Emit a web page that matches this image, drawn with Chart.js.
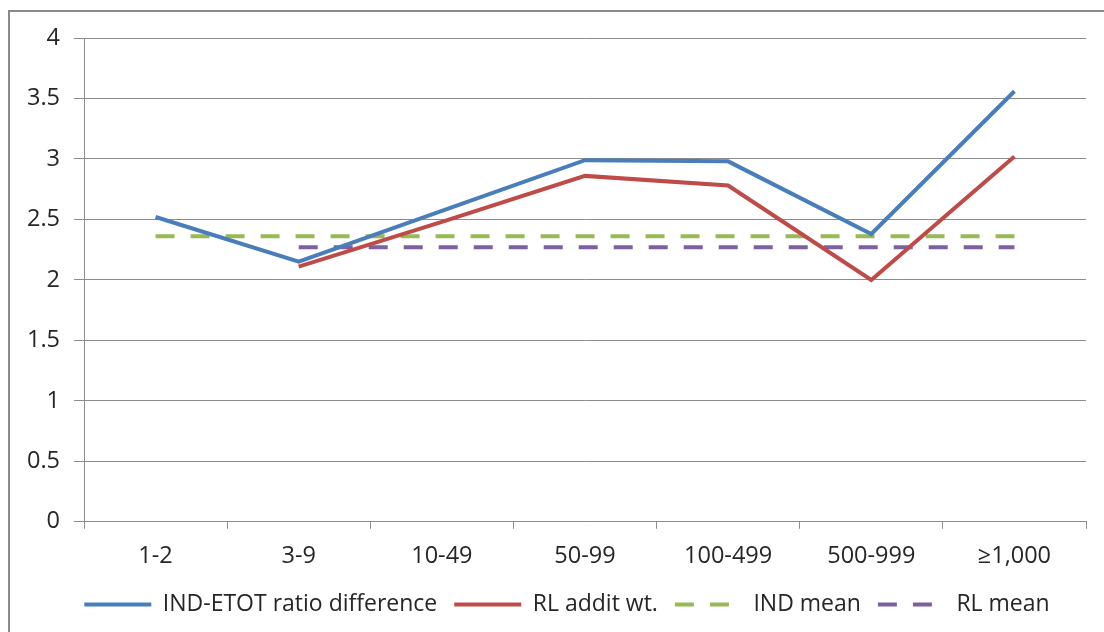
<!DOCTYPE html>
<html>
<head>
<meta charset="utf-8">
<script src="https://cdn.jsdelivr.net/npm/chart.js@4.4.0/dist/chart.umd.min.js"></script>
<style>
  html, body { margin: 0; padding: 0; background: #fff; }
  #wrap { width: 1104px; height: 632px; position: relative; }
</style>
</head>
<body>
<div id="wrap"><canvas id="myChart" width="1104" height="632"></canvas></div>
<script>
// establishment size classes
const sizeClasses = ['1-2', '3-9', '10-49', '50-99', '100-499', '500-999', '\u22651,000'];

const indEtotDiff = [2.52, 2.15, 2.57, 2.99, 2.98, 2.38, 3.56];
const rlAdditWt   = [null, 2.11, 2.48, 2.86, 2.78, 2.00, 3.02];
const indMean     = [2.36, 2.36, 2.36, 2.36, 2.36, 2.36, 2.36];
const rlMean      = [null, 2.27, 2.27, 2.27, 2.27, 2.27, 2.27];

const yTicks = [0, 0.5, 1, 1.5, 2, 2.5, 3, 3.5, 4];

const FONT = "'Open Sans', sans-serif";
const GRID = '#8c8c8c';
const TEXT = '#262626';

// grey frame round the whole chart, and nudge the legend to the right
const framePlugin = {
  id: 'frame',
  afterLayout(chart) {
    chart.legend.left += 48;
  },
  beforeDraw(chart) {
    const c = chart.ctx;
    c.save();
    c.fillStyle = '#fff';
    c.fillRect(0, 0, chart.width, chart.height);
    c.strokeStyle = '#8a8a8a';
    c.lineWidth = 2;
    c.strokeRect(9, 11, 1300, 800);
    c.restore();
  }
};

function lineSet(label, data, color, dash) {
  return {
    label: label,
    data: data,
    borderColor: color,
    backgroundColor: color,
    borderWidth: 4,
    borderDash: dash || [],
    pointRadius: 0,
    pointHoverRadius: 0,
    pointStyle: 'line',
    tension: 0,
    spanGaps: false
  };
}

var ctx = document.getElementById('myChart');
var chart = new Chart(ctx, {
  type: 'line',
  data: {
    labels: sizeClasses,
    datasets: [
      lineSet('IND-ETOT ratio difference', indEtotDiff, '#4a7ebb'),
      lineSet('RL addit wt.', rlAdditWt, '#be4b48'),
      lineSet('IND mean', indMean, '#98b954', [19, 16]),
      lineSet('RL mean', rlMean, '#7d60a0', [19, 16])
    ]
  },
  options: {
    responsive: false,
    animation: false,
    layout: { padding: { left: 0, right: 18, top: 38, bottom: 6 } },
    plugins: {
      tooltip: { enabled: false },
      legend: {
        position: 'bottom',
        labels: {
          usePointStyle: true,
          pointStyleWidth: 67,
          boxHeight: 20,
          padding: 17,
          color: TEXT,
          font: { family: FONT, size: 23 },
          generateLabels: chart => {
            const items = Chart.defaults.plugins.legend.labels.generateLabels(chart);
            items.forEach(it => {
              const ds = chart.data.datasets[it.datasetIndex];
              it.lineDash = ds.borderDash;
              it.lineWidth = ds.borderWidth;
              it.strokeStyle = ds.borderColor;
            });
            return items;
          }
        }
      }
    },
    scales: {
      x: {
        offset: true,
        afterFit: s => { s.height -= 7; },
        grid: { drawOnChartArea: false, drawTicks: true, tickLength: 7, offset: true, color: GRID },
        border: { color: GRID },
        ticks: { color: TEXT, padding: 13, font: { family: FONT, size: 23.5 }, maxRotation: 0 }
      },
      y: {
        min: 0,
        max: 4,
        afterFit: s => { s.width = 84; },
        afterBuildTicks: s => { s.ticks = yTicks.map(v => ({ value: v })); },
        grid: { color: GRID, tickLength: 10 },
        border: { color: GRID },
        ticks: { color: TEXT, padding: 14, font: { family: FONT, size: 23.5 }, callback: v => String(v) }
      }
    }
  },
  plugins: [framePlugin]
});
</script>
</body>
</html>
